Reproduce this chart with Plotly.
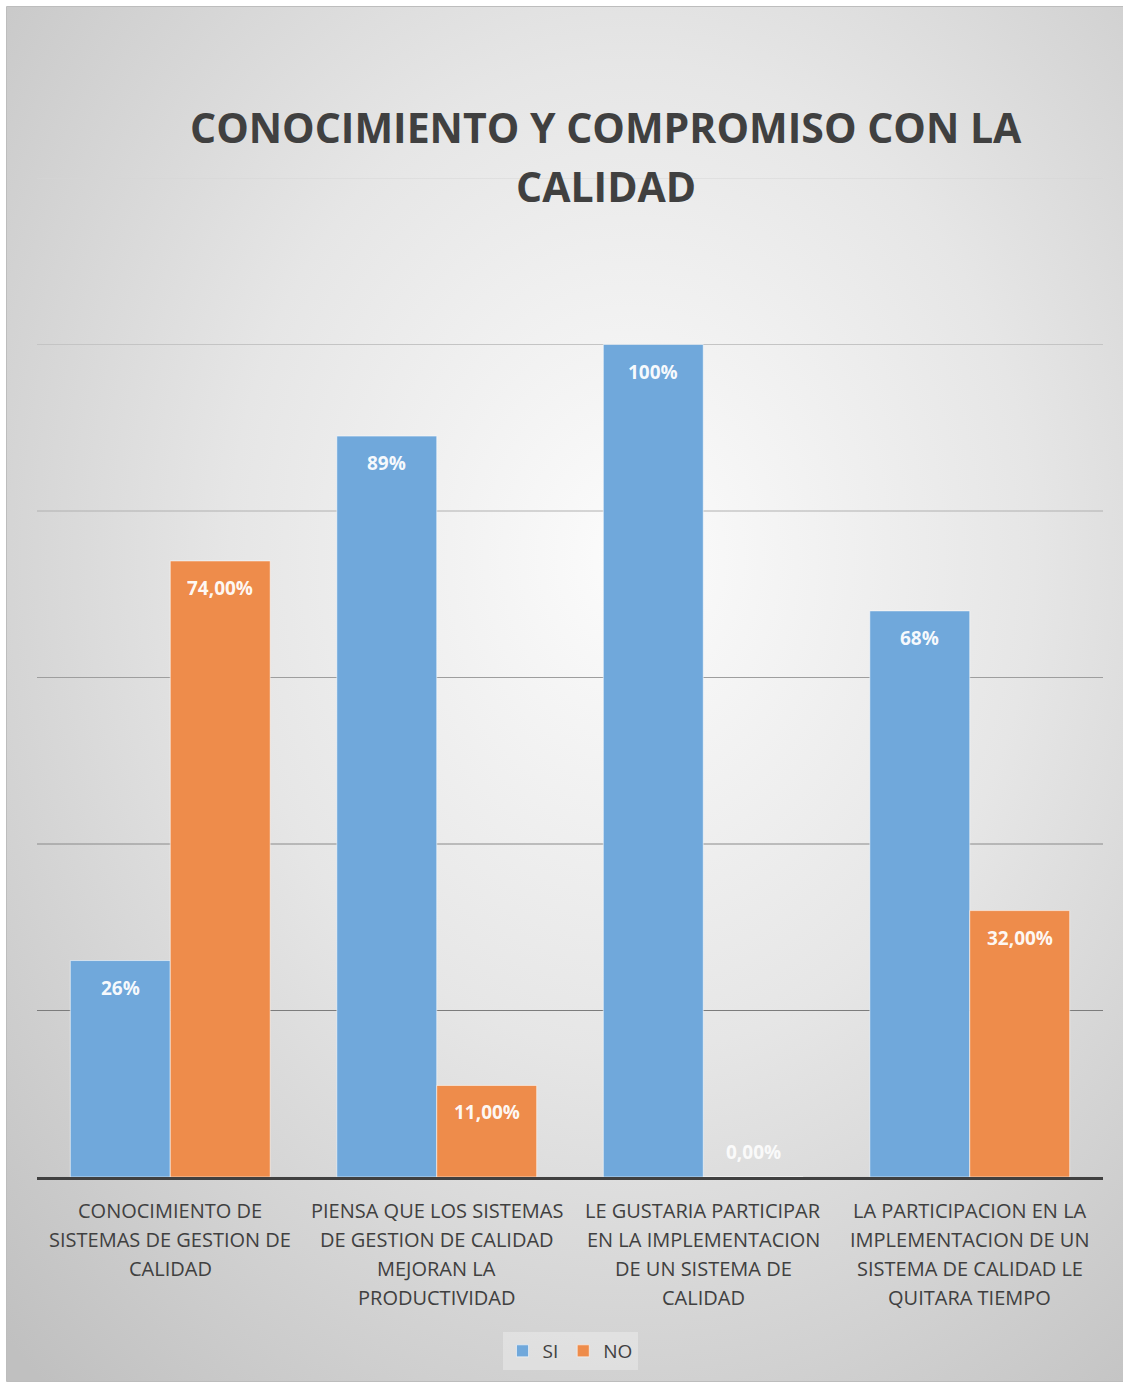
import base64
import plotly.graph_objects as go

# ---- data ----
categories = [
    "CONOCIMIENTO DE<br>SISTEMAS DE GESTION DE<br>CALIDAD",
    "PIENSA QUE LOS SISTEMAS<br>DE GESTION DE CALIDAD<br>MEJORAN LA<br>PRODUCTIVIDAD",
    "LE GUSTARIA PARTICIPAR<br>EN LA IMPLEMENTACION<br>DE UN SISTEMA DE<br>CALIDAD",
    "LA PARTICIPACION EN LA<br>IMPLEMENTACION DE UN<br>SISTEMA DE CALIDAD LE<br>QUITARA TIEMPO",
]
si_values = [0.26, 0.89, 1.00, 0.68]
no_values = [0.74, 0.11, 0.00, 0.32]
series_names = ["SI", "NO"]
title_lines = ["CONOCIMIENTO Y COMPROMISO CON LA", "CALIDAD"]
grid_values = [0.2, 0.4, 0.6, 0.8, 1.0, 1.2]

# ---- layout constants ----
W, H = 1123, 1382
M_L, M_R, M_T, M_B = 37, 20, 178, 205
PLOT_W = W - M_L - M_R
PLOT_H = H - M_T - M_B
BAR_GAP = 0.25
FONT = "Open Sans"
TEXT_DARK = "#404040"
BLUE = "#70a8db"
ORANGE = "#ee8c4b"
GRID_COLORS = ["#7c7c7c", "#8a8a8a", "#9e9e9e", "#b0b0b0", "#c4c4c4", "#d6d6d6"]


def px_x(x):
    return (x - M_L) / PLOT_W


def px_y(y):
    return (H - M_B - y) / PLOT_H


# soft radial background for the chart panel
svg = (
    '<svg xmlns="http://www.w3.org/2000/svg" width="1116" height="1374" '
    'preserveAspectRatio="none" viewBox="0 0 1116 1374">'
    '<defs><radialGradient id="g" cx="0.56" cy="0.40" r="0.80">'
    '<stop offset="0" stop-color="#fcfcfc"/>'
    '<stop offset="0.45" stop-color="#e6e6e6"/>'
    '<stop offset="1" stop-color="#c0c0c0"/>'
    '</radialGradient></defs>'
    '<rect width="1116" height="1374" fill="url(#g)"/></svg>'
)
bg_src = "data:image/svg+xml;base64," + base64.b64encode(svg.encode()).decode()

fig = go.Figure()
colors = [BLUE, ORANGE]
for name, vals, col in zip(series_names, [si_values, no_values], colors):
    fig.add_trace(go.Bar(
        name=name,
        x=list(range(len(categories))),
        y=vals,
        marker=dict(color=col, line=dict(color="rgba(255,255,255,0.55)", width=1)),
        hoverinfo="skip",
    ))

annotations = []

# title, one annotation per line
for k, line in enumerate(title_lines):
    annotations.append(dict(
        x=px_x(606), y=px_y(127 + 59 * k), xref="paper", yref="paper",
        text=line, showarrow=False, xanchor="center", yanchor="middle",
        font=dict(family=FONT, size=41, color=TEXT_DARK, weight="bold"),
    ))

# category labels under the axis
for i, cat in enumerate(categories):
    for k, line in enumerate(cat.split("<br>")):
        annotations.append(dict(
            x=i, y=0, xref="x", yref="paper",
            text=line, showarrow=False, xanchor="center", yanchor="middle",
            yshift=-(33 + 29 * k),
            font=dict(family=FONT, size=20, color=TEXT_DARK),
        ))

# value labels near the top of each bar
bar_w = (1 - BAR_GAP) / 2
for s, (vals, fmt) in enumerate([(si_values, "{:.0f}%"), (no_values, "{:.2f}%")]):
    offset = (s - 0.5) * bar_w
    for i, v in enumerate(vals):
        label = fmt.format(v * 100).replace(".", ",")
        annotations.append(dict(
            x=i + offset, y=v, xref="x", yref="y",
            text=label, showarrow=False,
            yshift=-27 if v > 0 else 25,
            font=dict(family=FONT, size=19,
                      color="rgba(255,255,255,0.95)" if v > 0 else "rgba(255,255,255,0.85)",
                      weight="bold"),
        ))

# horizontal gridlines
shapes = [dict(
    type="rect", xref="paper", yref="paper", layer="below",
    x0=px_x(6.5), x1=px_x(W + 2), y0=px_y(1381.5), y1=px_y(6.5),
    line=dict(color="#bdbdbd", width=1), fillcolor="rgba(0,0,0,0)",
)]
for gv, gc in zip(grid_values, GRID_COLORS):
    shapes.append(dict(
        type="line", xref="paper", yref="y", layer="below",
        x0=0, x1=1, y0=gv, y1=gv,
        line=dict(color=gc, width=1),
    ))

fig.update_layout(
    width=W, height=H,
    margin=dict(l=M_L, r=M_R, t=M_T, b=M_B),
    paper_bgcolor="white",
    plot_bgcolor="rgba(0,0,0,0)",
    barmode="group",
    bargap=BAR_GAP,
    bargroupgap=0,
    font=dict(family=FONT, color=TEXT_DARK),
    xaxis=dict(
        tickmode="array",
        tickvals=list(range(len(categories))),
        showticklabels=False,
        range=[-0.5, len(categories) - 0.5],
        showgrid=False, zeroline=False,
        showline=True, linecolor="#404040", linewidth=3,
        ticks="",
        fixedrange=True,
    ),
    yaxis=dict(
        range=[0, 1.2],
        showticklabels=False,
        showgrid=False,
        zeroline=False, showline=False, ticks="",
        fixedrange=True,
    ),
    legend=dict(
        orientation="h",
        x=0.5, xanchor="center",
        y=px_y(1351), yanchor="middle",
        bgcolor="rgba(255,255,255,0.3)",
        font=dict(family=FONT, size=19, color=TEXT_DARK),
        itemwidth=30,
    ),
    annotations=annotations,
    images=[dict(
        source=bg_src, xref="paper", yref="paper",
        x=px_x(7), y=px_y(7),
        sizex=px_x(W) - px_x(7), sizey=px_y(7) - px_y(1381),
        xanchor="left", yanchor="top", sizing="stretch", layer="below",
    )],
    shapes=shapes,
)

fig.write_html("out.html")
